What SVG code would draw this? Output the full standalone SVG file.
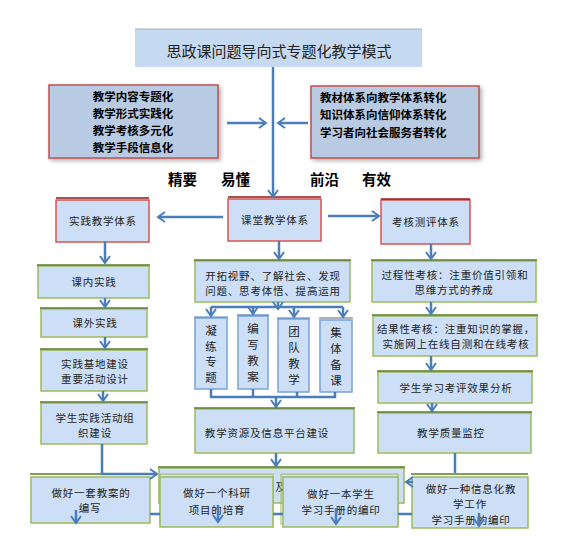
<svg xmlns="http://www.w3.org/2000/svg" width="572" height="555" viewBox="0 0 572 555">
<defs>
<style>
.t{font-family:"Noto Sans CJK SC","Noto Sans",sans-serif;fill:#222;}
.b{font-size:10.5px;letter-spacing:0.8px;text-anchor:middle;}
.v{font-size:11.5px;text-anchor:middle;}
.hd{font-size:11.5px;font-weight:bold;fill:#000;}
.lab{font-size:14.5px;font-weight:bold;fill:#000;}
.g{fill:#cddff6;stroke:#9bbb59;stroke-width:1.5;}
.r{fill:#cddff6;stroke:#d9534f;stroke-width:1.5;}
.bl{fill:#cddff6;stroke:#7aa3d6;stroke-width:1.5;}
.tg{stroke:#5b7a2e;stroke-width:1.5;}
.tr{stroke:#8b1a1a;stroke-width:1.5;}
.big{fill:#b8cbe2;stroke:#c0504d;stroke-width:1.5;}
.c{fill:none;stroke:#4a7ebb;stroke-width:2.5;}
.ca{fill:none;stroke:#4a7ebb;stroke-width:2.5;marker-end:url(#ah);}
</style>
<marker id="ah" markerUnits="userSpaceOnUse" markerWidth="14" markerHeight="14" refX="8" refY="6" orient="auto">
<path d="M1,1 L8,6 L1,11" fill="none" stroke="#4a7ebb" stroke-width="2"/>
</marker>
<filter id="sh" x="-10%" y="-10%" width="130%" height="130%">
<feDropShadow dx="2" dy="2" stdDeviation="2" flood-color="#777" flood-opacity="0.6"/>
</filter>
</defs>
<rect width="572" height="555" fill="#fff"/>

<g id="title">
<rect x="135" y="29" width="287" height="38" fill="#c5d9f1"/>
<line x1="135" y1="29" x2="422" y2="29" stroke="#aab" stroke-width="1"/>
<text class="t" x="279" y="57" font-size="15" text-anchor="middle" fill="#333">思政课问题导向式专题化教学模式</text>
</g>

<g id="left-features">
<rect class="big" x="49" y="85" width="169" height="73" filter="url(#sh)"/>
<text class="t hd" x="133" y="101" text-anchor="middle">教学内容专题化</text>
<text class="t hd" x="133" y="118" text-anchor="middle">教学形式实践化</text>
<text class="t hd" x="133" y="135" text-anchor="middle">教学考核多元化</text>
<text class="t hd" x="133" y="152" text-anchor="middle">教学手段信息化</text>
</g>

<g id="right-features">
<rect class="big" x="311" y="86" width="168" height="72" filter="url(#sh)"/>
<text class="t hd" x="320" y="102">教材体系向教学体系转化</text>
<text class="t hd" x="320" y="119">知识体系向信仰体系转化</text>
<text class="t hd" x="320" y="137">学习者向社会服务者转化</text>
</g>

<g id="labels">
<text class="t lab" x="168" y="185">精要</text>
<text class="t lab" x="221" y="185">易懂</text>
<text class="t lab" x="310" y="185">前沿</text>
<text class="t lab" x="362" y="185">有效</text>
</g>

<g id="practice-system">
<rect class="r" x="56" y="200" width="93" height="42"/>
<line class="tr" x1="56" y1="198" x2="149" y2="198"/>
<text class="t b" x="103" y="225">实践教学体系</text>
</g>
<g id="classroom-system">
<rect class="r" x="228" y="199" width="93" height="42"/>
<line class="tr" x1="228" y1="197" x2="321" y2="197"/>
<text class="t b" x="275" y="224">课堂教学体系</text>
</g>
<g id="assessment-system">
<rect class="r" x="381" y="200" width="89" height="44"/>
<line class="tr" x1="381" y1="199" x2="470" y2="199" stroke="#e08080"/>
<text class="t b" x="426" y="226">考核测评体系</text>
</g>

<g id="in-class-practice">
<rect class="g" x="38" y="266" width="111" height="32"/>
<line class="tg" x1="37" y1="265" x2="150" y2="265"/>
<text class="t b" x="94" y="286">课内实践</text>
</g>
<g id="out-class-practice">
<rect class="g" x="41" y="309" width="106" height="28"/>
<line class="tg" x1="40" y1="308" x2="148" y2="308"/>
<text class="t b" x="95" y="327">课外实践</text>
</g>
<g id="base-building">
<rect class="g" x="41" y="350" width="106" height="41"/>
<line class="tg" x1="40" y1="349" x2="148" y2="349"/>
<text class="t b" x="95" y="368">实践基地建设</text>
<text class="t b" x="95" y="383">重要活动设计</text>
</g>
<g id="student-activities">
<rect class="g" x="41" y="403" width="106" height="41"/>
<line class="tg" x1="40" y1="402" x2="148" y2="402"/>
<text class="t b" x="95" y="422">学生实践活动组</text>
<text class="t b" x="95" y="437">织建设</text>
</g>

<g id="broaden-view">
<rect class="g" x="195" y="261" width="155" height="41"/>
<line class="tg" x1="194" y1="260" x2="351" y2="260"/>
<text class="t b" x="273" y="280">开拓视野、了解社会、发现</text>
<text class="t b" x="273" y="295">问题、思考体悟、提高运用</text>
</g>

<g id="topics">
<rect class="bl" x="195" y="318" width="32" height="71"/>
<line x1="194" y1="317" x2="228" y2="317" stroke="#4a7ebb" stroke-width="1.2"/>
<text class="t v" x="211" y="335">凝</text>
<text class="t v" x="211" y="351">练</text>
<text class="t v" x="211" y="366">专</text>
<text class="t v" x="211" y="382">题</text>
</g>
<g id="lesson-plans">
<rect class="bl" x="238" y="316" width="30" height="73"/>
<line x1="237" y1="315" x2="269" y2="315" stroke="#4a7ebb" stroke-width="1.2"/>
<text class="t v" x="253" y="333">编</text>
<text class="t v" x="253" y="349">写</text>
<text class="t v" x="253" y="365">教</text>
<text class="t v" x="253" y="381">案</text>
</g>
<g id="team-teaching">
<rect class="bl" x="278" y="319" width="31" height="73"/>
<line x1="277" y1="318" x2="310" y2="318" stroke="#4a7ebb" stroke-width="1.2"/>
<text class="t v" x="294" y="336">团</text>
<text class="t v" x="294" y="352">队</text>
<text class="t v" x="294" y="368">教</text>
<text class="t v" x="294" y="384">学</text>
</g>
<g id="group-prep">
<rect class="bl" x="320" y="320" width="32" height="72"/>
<line x1="319" y1="318" x2="353" y2="318" stroke="#aab4c0" stroke-width="2"/>
<text class="t v" x="336" y="337">集</text>
<text class="t v" x="336" y="353">体</text>
<text class="t v" x="336" y="369">备</text>
<text class="t v" x="336" y="385">课</text>
</g>

<g id="resource-platform">
<rect class="g" x="195" y="409" width="159" height="44"/>
<line class="tg" x1="194" y1="408" x2="355" y2="408"/>
<text class="t b" x="267" y="437">教学资源及信息平台建设</text>
</g>

<g id="process-assessment">
<rect class="g" x="372" y="261" width="164" height="41"/>
<line class="tg" x1="371" y1="260" x2="537" y2="260"/>
<text class="t b" x="455" y="279">过程性考核：注重价值引领和</text>
<text class="t b" x="454" y="294">思维方式的养成</text>
</g>
<g id="result-assessment">
<rect class="g" x="373" y="316" width="164" height="40"/>
<line class="tg" x1="372" y1="315" x2="538" y2="315"/>
<text class="t b" x="456" y="333">结果性考核：注重知识的掌握，</text>
<text class="t b" x="456" y="348">实施网上在线自测和在线考核</text>
</g>
<g id="effect-analysis">
<rect class="g" x="378" y="372" width="154" height="31"/>
<line class="tg" x1="377" y1="371" x2="533" y2="371"/>
<text class="t b" x="456" y="392">学生学习考评效果分析</text>
</g>
<g id="quality-monitoring">
<rect class="g" x="378" y="413" width="153" height="40"/>
<line class="tg" x1="377" y1="412" x2="532" y2="412"/>
<text class="t b" x="451" y="437">教学质量监控</text>
</g>

<g id="back-box">
<rect class="g" x="159" y="468" width="245" height="35"/>
<line class="tg" x1="158" y1="467" x2="405" y2="467"/>
<text class="t b" x="281" y="491">及</text>
</g>

<g id="lesson-plan-writing">
<line class="tg" x1="30" y1="474" x2="150" y2="474"/>
<rect class="g" x="31" y="477" width="119" height="46"/>
<text class="t b" x="91" y="497">做好一套教案的</text>
<text class="t b" x="90" y="512">编写</text>
</g>
<g id="research-project">
<rect x="160" y="474" width="113" height="50" fill="none" stroke="#9bbb59" stroke-width="1"/>
<rect class="g" x="160" y="477" width="113" height="50"/>
<text class="t b" x="217" y="497">做好一个科研</text>
<text class="t b" x="217" y="514">项目的培育</text>
</g>
<g id="student-handbook">
<rect x="281" y="474" width="117" height="50" fill="none" stroke="#9bbb59" stroke-width="1"/>
<rect class="g" x="283" y="477" width="115" height="50"/>
<text class="t b" x="341" y="498">做好一本学生</text>
<text class="t b" x="341" y="514">学习手册的编印</text>
</g>
<g id="info-teaching">
<line class="tg" x1="411" y1="474" x2="528" y2="474"/>
<rect class="g" x="412" y="477" width="116" height="51"/>
<text class="t b" x="471" y="493">做好一种信息化教</text>
<text class="t b" x="470" y="508">学工作</text>
<text class="t b" x="471" y="524">学习手册的编印</text>
</g>

<g id="connectors">
<path class="ca" d="M273,67 V197"/>
<path class="ca" d="M227,123 H266"/>
<path class="ca" d="M308,123 H278"/>
<path class="ca" d="M223,217 H158"/>
<path class="ca" d="M328,216 H379"/>
<path class="ca" d="M105,242 V263"/>
<path class="ca" d="M105,298 V307"/>
<path class="ca" d="M105,337 V348"/>
<path class="ca" d="M103,391 V401"/>
<path class="ca" d="M279,241 V259"/>
<path class="ca" d="M278,302 V309"/>
<path class="c" d="M211,307 H343"/>
<path class="ca" d="M211,307 V316"/>
<path class="ca" d="M253,307 V314"/>
<path class="ca" d="M294,307 V317"/>
<path class="ca" d="M343,307 V317"/>
<path class="c" d="M211,389 V397 H335 V392"/>
<path class="c" d="M253,389 V397"/>
<path class="c" d="M297,392 V397"/>
<path class="ca" d="M276,397 V407"/>
<path class="ca" d="M276,453 V466"/>
<path class="ca" d="M431,244 V259"/>
<path class="ca" d="M431,302 V314"/>
<path class="ca" d="M431,356 V370"/>
<path class="ca" d="M432,403 V411"/>
<path class="ca" d="M102,444 V474 H157"/>
<path class="c" d="M455,453 V473"/>
<path class="ca" d="M413,482 H406"/>
<path class="c" d="M150,514 H160 M273,514 H283 M398,514 H412"/>
<path class="ca" d="M76,510 V523"/>
<path class="ca" d="M218,505 V522"/>
<path class="ca" d="M336,508 V524"/>
<path class="ca" d="M479,513 V526"/>
</g>
</svg>
